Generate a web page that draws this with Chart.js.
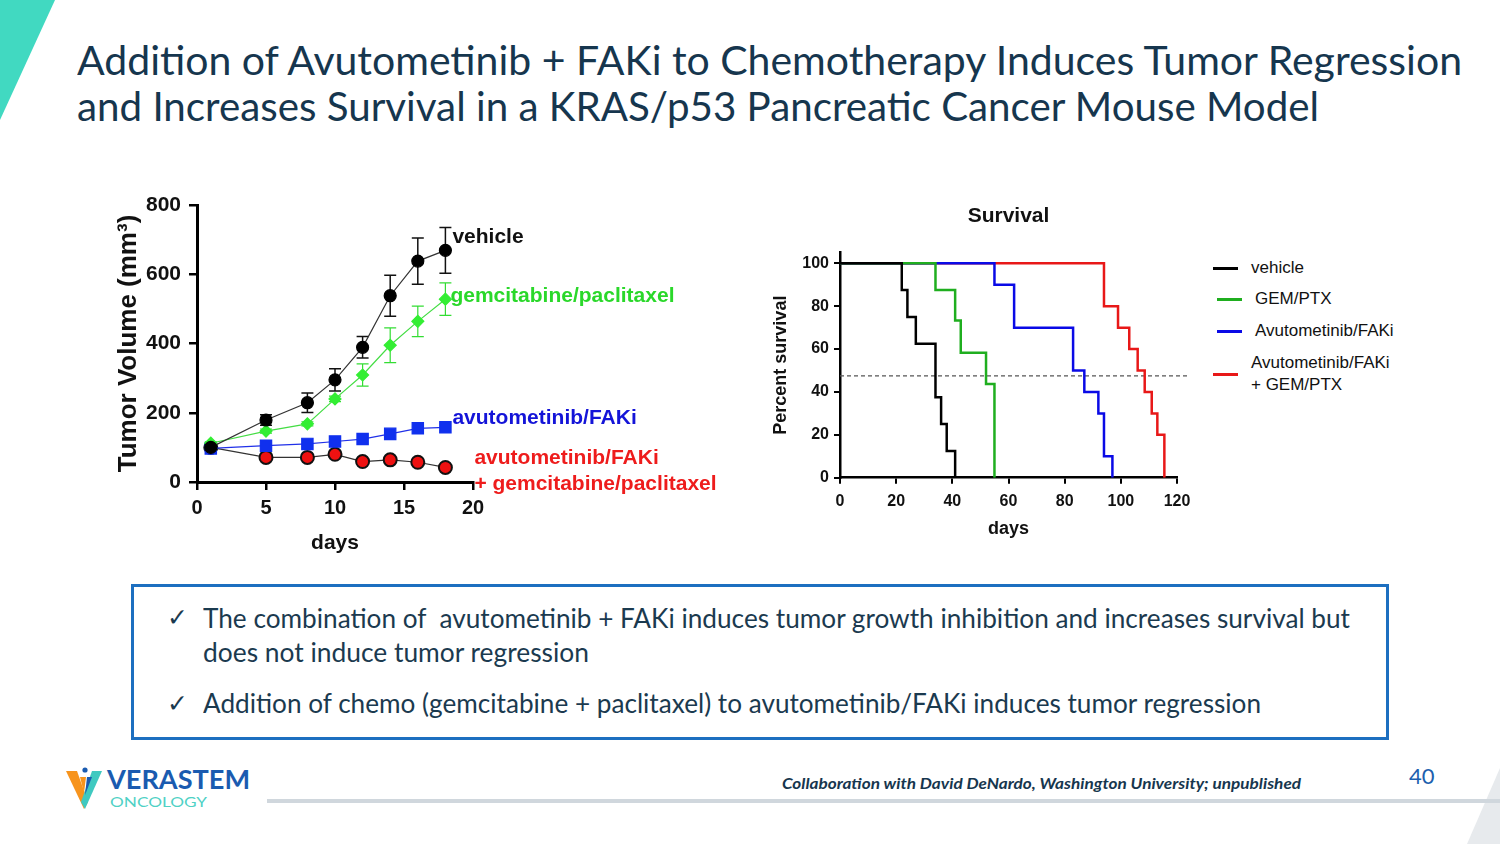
<!DOCTYPE html>
<html>
<head>
<meta charset="utf-8">
<script src="https://cdn.jsdelivr.net/npm/chart.js@4.4.1/dist/chart.umd.min.js"></script>
<style>
  html, body { margin: 0; padding: 0; background: #fff; }
  #page { position: relative; width: 1500px; height: 844px; overflow: hidden; background: #fff; }
  .abs { position: absolute; }
  .fit { display: inline-block; white-space: nowrap; transform-origin: left center; line-height: 1; }
  .title { font-family: Lato, sans-serif; font-size: 40px; color: #16364e; }
  .bullet { font-family: Lato, sans-serif; font-size: 27px; color: #1b3a4f; }
  .check { font-family: "DejaVu Sans", sans-serif; font-size: 25px; color: #1b3a4f; line-height: 1; }
  .leg { font-family: "Liberation Sans", Arial, sans-serif; font-size: 17px; color: #111; line-height: 22px; }
  canvas { position: absolute; }
</style>
</head>
<body>
<div id="page">
  <svg class="abs" style="left:0;top:0" width="1500" height="844">
    <polygon points="0,0 55,0 0,120" fill="#41d9c1"/>
    <polygon points="1467,844 1500,768 1500,844" fill="#e7eaed"/>
    <rect x="267" y="799" width="1233" height="4" fill="#d0d7dd"/>
    <!-- logo mark -->
    <polygon points="66,771 77,771 88,802 84,809" fill="#f7941d"/>
    <polygon points="102,771 92,771 81,802 85,809" fill="#3fc9c0"/>
    <polygon points="80,777 86,777 84,793" fill="#f7941d"/>
    <polygon points="87,777 92,777 85,795" fill="#1a5bb0"/>
    <circle cx="85" cy="770" r="2.6" fill="#1a5bb0"/>
  </svg>

  <div class="abs" style="left:77px;top:40px"><span class="fit title" data-w="1385">Addition of Avutometinib + FAKi to Chemotherapy Induces Tumor Regression</span></div>
  <div class="abs" style="left:77px;top:86px"><span class="fit title" data-w="1242">and Increases Survival in a KRAS/p53 Pancreatic Cancer Mouse Model</span></div>

  <canvas id="tumor" width="640" height="390" style="left:100px;top:180px;width:640px;height:390px"></canvas>
  <canvas id="survival" width="450" height="360" style="left:760px;top:195px;width:450px;height:360px"></canvas>
  <div id="legend"></div>

  <div class="abs" style="left:131px;top:584px;width:1258px;height:156px;border:3px solid #1d6fc0;box-sizing:border-box"></div>
  <div class="abs check" style="left:167px;top:605px">✓</div>
  <div class="abs check" style="left:167px;top:691px">✓</div>
  <div class="abs" style="left:203px;top:604px"><span class="fit bullet" data-w="1147">The combination of&nbsp; avutometinib + FAKi induces tumor growth inhibition and increases survival but</span></div>
  <div class="abs" style="left:203px;top:638px"><span class="fit bullet" data-w="386">does not induce tumor regression</span></div>
  <div class="abs" style="left:203px;top:689px"><span class="fit bullet" data-w="1058">Addition of chemo (gemcitabine + paclitaxel) to avutometinib/FAKi induces tumor regression</span></div>

  <div class="abs" style="left:107px;top:766px"><span class="fit" data-w="143" style="font-family:Lato,sans-serif;font-size:26px;font-weight:bold;color:#1a5bb0">VERASTEM</span></div>
  <div class="abs" style="left:110px;top:793px"><span class="fit" data-w="97" style="font-family:Lato,sans-serif;font-size:14px;color:#4fd1c5">ONCOLOGY</span></div>
  <div class="abs" style="left:782px;top:775px"><span class="fit" data-w="519" style="font-family:Lato,sans-serif;font-size:15px;font-weight:bold;font-style:italic;color:#16364e">Collaboration with David DeNardo, Washington University; unpublished</span></div>
  <div class="abs" style="left:1409px;top:765px;font-family:Lato,sans-serif;font-size:22px;line-height:1;color:#1d5fae">40</div>
</div>

<script>
// tumor volume (mm3) by day
const days = [1, 5, 8, 10, 12, 14, 16, 18];
const vehicleMean = [100, 179, 229, 295, 389, 538, 638, 669];
const vehicleSem = [0, 15, 28, 32, 31, 59, 67, 66];
const gemMean = [112, 147, 168, 240, 309, 395, 464, 528];
const gemSem = [4, 6, 6, 8, 32, 50, 44, 47];
const avutoMean = [97, 105, 110, 117, 124, 139, 155, 158];
const comboMean = [100, 71, 71, 80, 59, 64, 57, 42];

// Kaplan-Meier steps
const survVehicleX = [0, 22, 24, 27, 34, 36, 38, 41];
const survVehicleY = [100, 87.5, 75, 62.5, 37.5, 25, 12.5, 0];
const survGemX = [0, 34, 41, 43, 52, 55];
const survGemY = [100, 87.5, 73.3, 58.3, 43.7, 0];
const survAvutoX = [0, 55, 62, 83, 87, 92, 94, 97];
const survAvutoY = [100, 90, 70, 50, 40, 30, 10, 0];
const survComboX = [0, 94, 99, 103, 106, 108.5, 111, 113, 115.5];
const survComboY = [100, 80, 70, 60, 50, 40, 30, 20, 0];
const medianX = [0, 124];
const medianY = [47.5, 47.5];

const survLabels = ['vehicle', 'GEM/PTX', 'Avutometinib/FAKi', 'Avutometinib/FAKi\n+ GEM/PTX'];
const survColors = ['#000000', '#1fae1f', '#0a0ae6', '#e81818'];

const pts = (xs, ys) => xs.map((x, i) => ({ x: x, y: ys[i] }));

const bold = size => ({ family: "'Liberation Sans', Arial, sans-serif", size: size, weight: 'bold' });

// error bars drawn under the markers
const errorBars = {
  id: 'errorBars',
  beforeDatasetsDraw(chart) {
    const ctx = chart.ctx;
    const xs = chart.scales.x, ys = chart.scales.y;
    const sets = [[vehicleMean, vehicleSem, '#111', 1.5], [gemMean, gemSem, '#33dd33', 1.2]];
    ctx.save();
    sets.forEach(([m, s, col, lw]) => {
      ctx.strokeStyle = col;
      ctx.lineWidth = lw;
      days.forEach((d, i) => {
        if (!s[i]) return;
        const px = xs.getPixelForValue(d);
        const top = ys.getPixelForValue(m[i] + s[i]);
        const bot = ys.getPixelForValue(m[i] - s[i]);
        ctx.beginPath();
        ctx.moveTo(px, top); ctx.lineTo(px, bot);
        ctx.moveTo(px - 6, top); ctx.lineTo(px + 6, top);
        ctx.moveTo(px - 6, bot); ctx.lineTo(px + 6, bot);
        ctx.stroke();
      });
    });
    ctx.restore();
  }
};

// series names at the end of each line
const endLabels = {
  id: 'endLabels',
  afterDatasetsDraw(chart) {
    const ctx = chart.ctx;
    const xs = chart.scales.x, ys = chart.scales.y;
    const last = days.length - 1;
    const px = xs.getPixelForValue(days[last]);
    const items = [
      ['vehicle', '#111', 7, ys.getPixelForValue(vehicleMean[last]) - 13],
      ['gemcitabine/paclitaxel', '#2ad82a', 5, ys.getPixelForValue(gemMean[last]) - 3],
      ['avutometinib/FAKi', '#1414d8', 7, ys.getPixelForValue(avutoMean[last]) - 9],
      ['avutometinib/FAKi', '#ee1c1c', 29, ys.getPixelForValue(comboMean[last]) - 9],
      ['+ gemcitabine/paclitaxel', '#ee1c1c', 29, ys.getPixelForValue(comboMean[last]) + 17]
    ];
    ctx.save();
    ctx.font = "bold 21px 'Liberation Sans', Arial, sans-serif";
    ctx.textBaseline = 'middle';
    items.forEach(([t, c, dx, y]) => {
      ctx.fillStyle = c;
      ctx.fillText(t, px + dx, y);
    });
    ctx.restore();
  }
};

new Chart(document.getElementById('tumor'), {
  type: 'line',
  data: {
    datasets: [
      { data: pts(days, vehicleMean), borderColor: '#333', borderWidth: 1.2, pointStyle: 'circle', pointRadius: 6, pointBackgroundColor: '#000', pointBorderColor: '#000' },
      { data: pts(days, gemMean), borderColor: '#44dd44', borderWidth: 1.2, pointStyle: 'rectRot', pointRadius: 6, pointBackgroundColor: '#33ee33', pointBorderColor: '#33ee33' },
      { data: pts(days, avutoMean), borderColor: '#2030e8', borderWidth: 1.2, pointStyle: 'rect', pointRadius: 8, pointBackgroundColor: '#1030ee', pointBorderColor: '#1030ee' },
      { data: pts(days, comboMean), borderColor: '#333', borderWidth: 1.2, pointStyle: 'circle', pointRadius: 6.5, pointBackgroundColor: '#ee1111', pointBorderColor: '#111', pointBorderWidth: 2 }
    ]
  },
  options: {
    responsive: false,
    animation: false,
    layout: { padding: { left: 0, top: 25, right: 267, bottom: 0 } },
    plugins: { legend: { display: false }, tooltip: { enabled: false } },
    scales: {
      x: {
        type: 'linear', min: 0, max: 20,
        ticks: { stepSize: 5, color: '#111', font: bold(20), padding: 6 },
        grid: { drawOnChartArea: false, color: '#000', lineWidth: 2.5, tickLength: 8 },
        border: { color: '#000', width: 3 },
        title: { display: true, text: 'days', color: '#111', font: bold(21), padding: { top: 0, bottom: 14 } },
        afterFit(s) { s.height = 88; }
      },
      y: {
        min: 0, max: 800,
        ticks: { stepSize: 200, color: '#111', font: bold(21), padding: 8 },
        grid: { drawOnChartArea: false, color: '#000', lineWidth: 2.5, tickLength: 8 },
        border: { color: '#000', width: 3 },
        title: { display: true, text: 'Tumor Volume (mm³)', color: '#111', font: bold(26), padding: { top: 13, bottom: 0 } },
        afterFit(s) { s.width = 97; }
      }
    }
  },
  plugins: [errorBars, endLabels]
});

const survSets = [[survVehicleX, survVehicleY], [survGemX, survGemY], [survAvutoX, survAvutoY], [survComboX, survComboY]];

new Chart(document.getElementById('survival'), {
  type: 'line',
  data: {
    datasets: survSets.map(([xs, ys], i) => ({
      data: pts(xs, ys), stepped: 'before', borderColor: survColors[i], borderWidth: 2.5, pointRadius: 0
    })).concat([{
      data: pts(medianX, medianY), borderColor: '#555', borderWidth: 1.2, borderDash: [4, 3], pointRadius: 0, clip: false
    }])
  },
  options: {
    responsive: false,
    animation: false,
    layout: { padding: { left: 0, top: 0, right: 33, bottom: 0 } },
    plugins: {
      legend: { display: false }, tooltip: { enabled: false },
      title: { display: true, fullSize: false, text: 'Survival', color: '#111', font: bold(21), padding: { top: 9, bottom: 23.4 } }
    },
    scales: {
      x: {
        type: 'linear', min: 0, max: 120,
        ticks: { stepSize: 20, color: '#111', font: bold(16), padding: 8 },
        grid: { drawOnChartArea: false, color: '#000', lineWidth: 2, tickLength: 6 },
        border: { color: '#000', width: 2.5 },
        title: { display: true, text: 'days', color: '#111', font: bold(18), padding: { top: 0, bottom: 15 } },
        afterFit(s) { s.height = 77.3; }
      },
      y: {
        min: 0, max: 105,
        ticks: { stepSize: 20, includeBounds: false, color: '#111', font: bold(16), padding: 5 },
        grid: { drawOnChartArea: false, color: '#000', lineWidth: 2, tickLength: 6 },
        border: { color: '#000', width: 2.5 },
        title: { display: true, text: 'Percent survival', color: '#111', font: bold(18), padding: { top: 10, bottom: 0 } },
        afterFit(s) { s.width = 80; }
      }
    }
  }
});

// survival legend
const legendRows = [268, 299, 331, 374];
const legendX = [1213, 1217, 1217, 1213];
const legendTextX = [1251, 1255, 1255, 1251];
const legend = document.getElementById('legend');
survLabels.forEach((lab, i) => {
  const line = document.createElement('div');
  line.className = 'abs';
  line.style.cssText = `left:${legendX[i]}px;top:${legendRows[i] - 1}px;width:25px;height:2.5px;background:${survColors[i]}`;
  legend.appendChild(line);
  const parts = lab.split('\n');
  const txt = document.createElement('div');
  txt.className = 'abs leg';
  txt.style.left = legendTextX[i] + 'px';
  txt.style.top = (legendRows[i] - parts.length * 11) + 'px';
  txt.innerHTML = parts.join('<br>');
  legend.appendChild(txt);
});

function fitText() {
  document.querySelectorAll('[data-w]').forEach(el => {
    el.style.transform = 'none';
    const w = el.getBoundingClientRect().width;
    el.style.transform = 'scaleX(' + (parseFloat(el.dataset.w) / w) + ')';
  });
}
fitText();
document.fonts.ready.then(fitText);
</script>
</body>
</html>
